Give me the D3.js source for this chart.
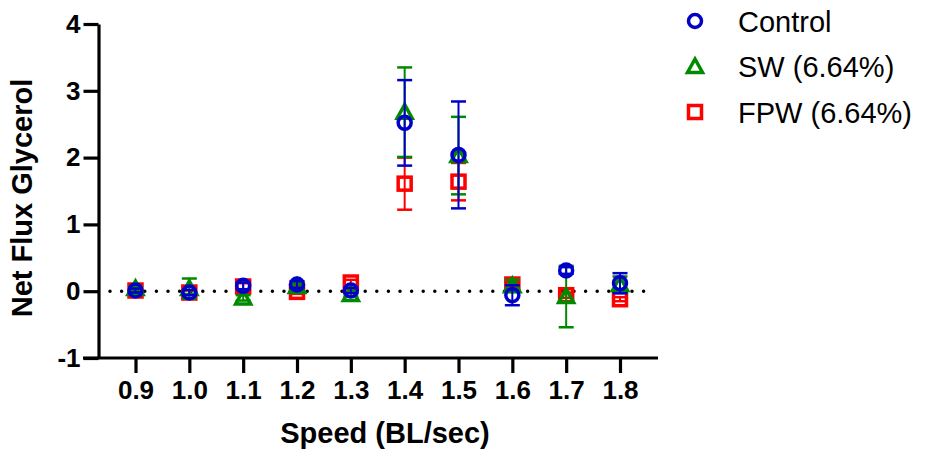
<!DOCTYPE html>
<html>
<head>
<meta charset="utf-8">
<script src="https://cdn.jsdelivr.net/npm/d3@7"></script>
<style>
    body { margin: 0; background: #fff; }
    #chart { width: 929px; height: 451px; }
    text { font-family: "Liberation Sans", Arial, sans-serif; }
</style>
</head>
<body>
<div id="chart"></div>
<script>
// values (mean and error, one per speed)
const speeds = [0.9, 1.0, 1.1, 1.2, 1.3, 1.4, 1.5, 1.6, 1.7, 1.8];
const controlMean = [0.01, -0.02, 0.08, 0.10, 0.01, 2.52, 2.04, -0.06, 0.31, 0.12];
const controlErr  = [0.03, 0.04, 0.05, 0.05, 0.04, 0.64, 0.80, 0.15, 0.05, 0.15];
const swMean = [0.04, 0.04, -0.10, 0.07, -0.05, 2.68, 2.03, 0.08, -0.08, 0.10];
const swErr  = [0.03, 0.15, 0.04, 0.04, 0.03, 0.67, 0.58, 0.09, 0.46, 0.12];
const fpwMean = [0.01, -0.02, 0.07, -0.01, 0.13, 1.61, 1.64, 0.10, -0.06, -0.12];
const fpwErr  = [0.02, 0.03, 0.05, 0.03, 0.04, 0.39, 0.28, 0.04, 0.04, 0.03];
const seriesNames = ["Control", "SW (6.64%)", "FPW (6.64%)"];
const yTicks = [-1, 0, 1, 2, 3, 4];

class ErrorScatter {

    constructor(parentElement) {
        this.parentElement = parentElement;
        this.initVis();
    }

    initVis() {
        let vis = this;
        vis.width = 929;
        vis.height = 451;

        vis.svg = d3.select("#" + vis.parentElement).append("svg")
            .attr("width", vis.width)
            .attr("height", vis.height);

        vis.x = d3.scaleLinear().domain([0.9, 1.8]).range([135.5, 620]);
        vis.y = d3.scaleLinear().domain([-1, 4]).range([358, 24]);

        vis.colors = ["#0000c8", "#008a00", "#ff0000"];
        vis.shapes = ["circle", "triangle", "square"];

        vis.wrangleData();
        vis.updateVis();
    }

    wrangleData() {
        let vis = this;
        let means = [controlMean, swMean, fpwMean];
        let errs = [controlErr, swErr, fpwErr];
        vis.data = seriesNames.map(function (name, s) {
            return {
                name: name,
                idx: s,
                points: speeds.map(function (sp, i) {
                    return {speed: sp, mean: means[s][i], err: errs[s][i]};
                })
            };
        });
    }

    marker(sel, shape, color) {
        if (shape === "circle") {
            sel.append("circle").attr("r", 6.5);
        } else if (shape === "triangle") {
            sel.append("path").attr("d", "M0,-7.5L7.5,6L-7.5,6Z");
        } else {
            sel.append("rect").attr("x", -6.5).attr("y", -6.5).attr("width", 13).attr("height", 13);
        }
        sel.selectAll("*")
            .attr("fill", "none")
            .attr("stroke", color)
            .attr("stroke-width", 3.5);
    }

    updateVis() {
        let vis = this;

        // zero reference line (dotted)
        vis.svg.append("line")
            .attr("x1", 110).attr("x2", 652)
            .attr("y1", vis.y(0)).attr("y2", vis.y(0))
            .attr("stroke", "black")
            .attr("stroke-width", 3.5)
            .attr("stroke-linecap", "round")
            .attr("stroke-dasharray", "0,11.6");

        // y axis
        let yAxis = vis.svg.append("g")
            .attr("transform", "translate(98.5,0)")
            .call(d3.axisLeft(vis.y).tickValues(yTicks).tickSize(15).tickSizeOuter(0).tickPadding(3).tickFormat(d => String(d)));
        yAxis.select(".domain").attr("stroke-width", 3.2);
        yAxis.selectAll(".tick line").attr("stroke-width", 3.2);
        yAxis.selectAll(".tick text")
            .attr("font-size", 26).attr("font-weight", "bold").attr("fill", "black")
            .attr("font-family", "Liberation Sans, Arial, sans-serif");

        // x axis
        vis.svg.append("line")
            .attr("x1", 83).attr("x2", 658)
            .attr("y1", 358).attr("y2", 358)
            .attr("stroke", "black").attr("stroke-width", 3.2);
        let xAxis = vis.svg.append("g")
            .attr("transform", "translate(0,358)")
            .call(d3.axisBottom(vis.x).tickValues(speeds).tickSize(15).tickSizeOuter(0).tickPadding(8).tickFormat(d3.format(".1f")));
        xAxis.select(".domain").remove();
        xAxis.selectAll(".tick line").attr("stroke-width", 3.2);
        xAxis.selectAll(".tick text")
            .attr("font-size", 26).attr("font-weight", "bold").attr("fill", "black")
            .attr("font-family", "Liberation Sans, Arial, sans-serif");

        // axis titles
        vis.svg.append("text")
            .attr("x", 385).attr("y", 443)
            .attr("text-anchor", "middle")
            .attr("font-size", 29).attr("font-weight", "bold")
            .text("Speed (BL/sec)");
        vis.svg.append("text")
            .attr("transform", "translate(32,198) rotate(-90)")
            .attr("text-anchor", "middle")
            .attr("font-size", 29).attr("font-weight", "bold")
            .text("Net Flux Glycerol");

        // series, drawn last-first so Control ends on top
        let series = vis.svg.selectAll(".series")
            .data(vis.data.slice().reverse())
            .enter().append("g")
            .attr("class", "series");

        series.each(function (s) {
            let g = d3.select(this);
            let color = vis.colors[s.idx];
            let pts = g.selectAll(".pt").data(s.points).enter().append("g")
                .attr("class", "pt")
                .attr("transform", d => `translate(${vis.x(d.speed)},0)`);
            pts.append("line")
                .attr("y1", d => vis.y(d.mean + d.err))
                .attr("y2", d => vis.y(d.mean - d.err))
                .attr("stroke", color).attr("stroke-width", 2);
            [1, -1].forEach(function (sign) {
                pts.append("line")
                    .attr("x1", -7.5).attr("x2", 7.5)
                    .attr("y1", d => vis.y(d.mean + sign * d.err))
                    .attr("y2", d => vis.y(d.mean + sign * d.err))
                    .attr("stroke", color).attr("stroke-width", 2.5);
            });
            pts.append("g")
                .attr("transform", d => `translate(0,${vis.y(d.mean)})`)
                .each(function () { vis.marker(d3.select(this), vis.shapes[s.idx], color); });
        });

        // legend
        let legend = vis.svg.selectAll(".legend")
            .data(vis.data)
            .enter().append("g")
            .attr("class", "legend")
            .attr("transform", (d, i) => `translate(695,${21 + i * 45.5})`);
        legend.append("g").each(function (d) {
            vis.marker(d3.select(this), vis.shapes[d.idx], vis.colors[d.idx]);
        });
        legend.append("text")
            .attr("x", 43).attr("y", 10.5)
            .attr("font-size", 29)
            .attr("fill", "black")
            .text(d => d.name);
    }
}

new ErrorScatter("chart");
</script>
</body>
</html>
